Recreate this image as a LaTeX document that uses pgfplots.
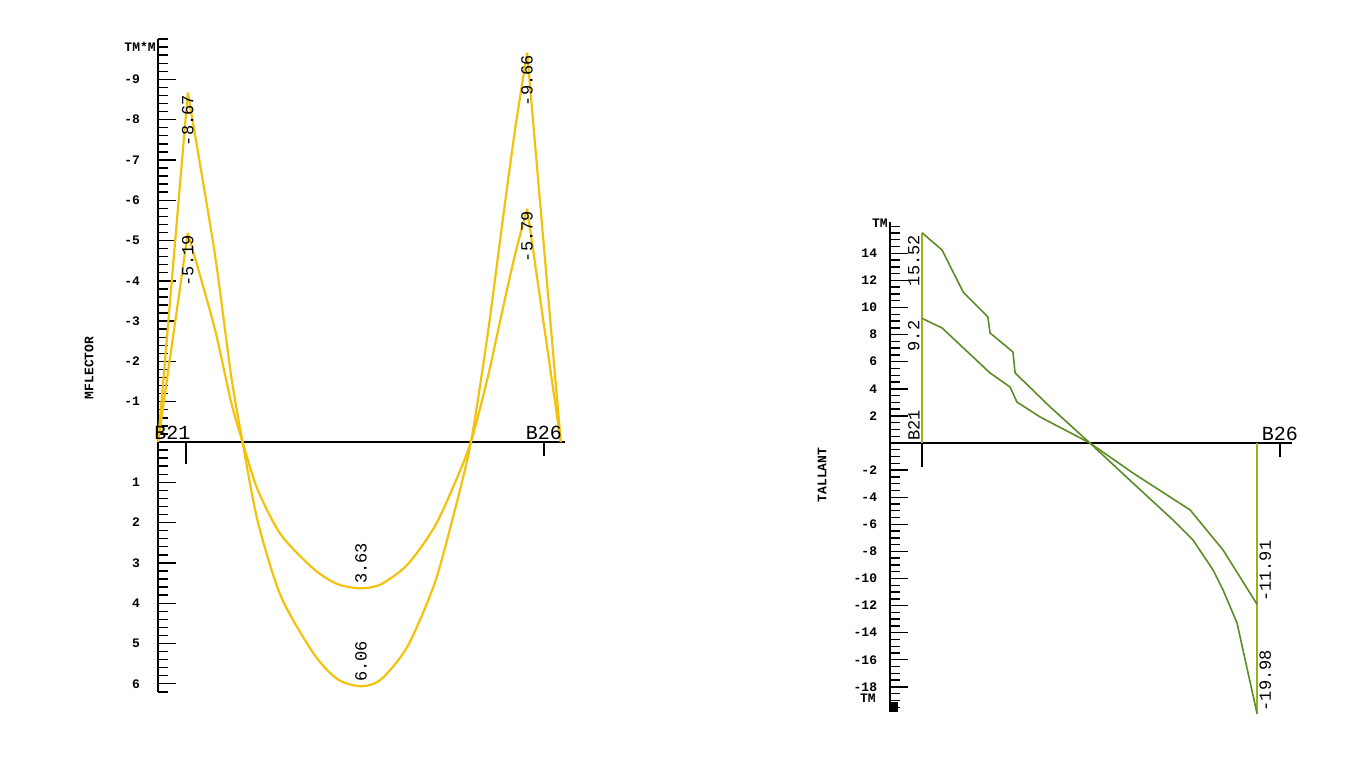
\documentclass[border=0pt]{standalone}
\usepackage{fontspec}
\setmainfont{Liberation Sans}
\setmonofont{Liberation Mono}
\usepackage{pgfplots}
\pgfplotsset{compat=1.18}

\definecolor{mom}{RGB}{242,194,12}
\definecolor{shear}{RGB}{92,140,36}
\definecolor{supp}{RGB}{150,178,28}

\newcommand{\tk}{\fontsize{6.5}{6.5}\selectfont\ttfamily\bfseries}
\newcommand{\vl}{\fontsize{8.5}{8.5}\selectfont\ttfamily}
\newcommand{\bl}{\fontsize{10}{10}\selectfont\ttfamily}

\pgfplotsset{diag/.style={
    scale only axis, anchor=origin, clip=false,
    axis y line=left, axis x line=middle,
    axis line style={-, line width=1pt, black},
    xtick=\empty, ytick align=inside,
    major tick length=9pt, minor tick length=5pt,
    tick style={black, line width=0.7pt},
    /pgf/number format/assume math mode=true,
}}

\begin{document}
\begin{tikzpicture}
\path[use as bounding box] (0,0) rectangle (684pt,378.5pt);

% bending moment
\begin{axis}[diag, at={(93pt,157.5pt)},
    width=203.5pt, height=326.4pt,
    xmin=-0.78, xmax=10.59, ymin=-10, ymax=6.2, y dir=reverse,
    ytick={-9,-8,-7,-6,-5,-4,-3,-2,-1,1,2,3,4,5,6},
    minor ytick={-10,-9.8,...,6.2},
    yticklabel style={font=\tk, xshift=-5.5pt},
]
\addplot[mom, line width=1.1pt, smooth, tension=0.45] coordinates {
    (0.05,-8.67) (0.79,-4.76) (1.26,-1.65) (1.58,0) (2.0,1.96) (2.65,3.83)
    (3.58,5.27) (4.24,5.89) (4.89,6.06) (5.45,5.89) (6.19,5.07) (6.94,3.52)
    (7.49,1.76) (7.96,0) (8.43,-2.69) (8.89,-5.79) (9.2,-7.8) (9.53,-9.66)};
\addplot[mom, line width=1.1pt, smooth, tension=0.45] coordinates {
    (0.05,-5.19) (0.79,-2.86) (1.26,-0.99) (1.58,0) (2.0,1.18) (2.65,2.30)
    (3.58,3.16) (4.24,3.53) (4.89,3.63) (5.45,3.53) (6.19,3.04) (6.94,2.11)
    (7.49,1.06) (7.96,0) (8.43,-1.61) (8.89,-3.47) (9.2,-4.68) (9.53,-5.79)};
\addplot[mom, line width=1.1pt] coordinates {(-0.78,0) (0.05,-8.67)};
\addplot[mom, line width=1.1pt] coordinates {(-0.78,0) (0.05,-5.19)};
\addplot[mom, line width=1.1pt] coordinates {(9.53,-9.66) (10.47,0)};
\addplot[mom, line width=1.1pt] coordinates {(9.53,-5.79) (10.47,0)};

\draw[line width=0.8pt] (axis cs:0,0) -- ([yshift=-11pt]axis cs:0,0);
\draw[line width=0.8pt] (axis cs:10,0) -- ([yshift=-7pt]axis cs:10,0);
\node[font=\bl, anchor=south west, inner sep=1pt, xshift=-3pt] at (axis cs:-0.78,0) {B21};
\node[font=\bl, anchor=south, inner sep=1pt] at (axis cs:10,0) {B26};
\node[font=\tk, anchor=east, inner sep=1pt] at (axis cs:-0.78,-9.8) {TM*M};
\node[font=\tk, rotate=90] at (axis cs:-2.71,-1.84) {MFLECTOR};

\node[font=\vl, rotate=90, anchor=east, inner sep=1pt] at (axis cs:0.05,-8.67) {-8.67};
\node[font=\vl, rotate=90, anchor=east, inner sep=1pt] at (axis cs:0.05,-5.19) {-5.19};
\node[font=\vl, rotate=90, anchor=east, inner sep=1pt] at (axis cs:9.53,-9.66) {-9.66};
\node[font=\vl, rotate=90, anchor=east, inner sep=1pt] at (axis cs:9.53,-5.79) {-5.79};
\node[font=\vl, rotate=90, anchor=west, inner sep=2pt] at (axis cs:4.89,3.63) {3.63};
\node[font=\vl, rotate=90, anchor=west, inner sep=2pt] at (axis cs:4.89,6.06) {6.06};
\end{axis}

% shear
\begin{axis}[diag, at={(461pt,157pt)},
    width=201pt, height=244.9pt,
    xmin=-0.89, xmax=10.34, ymin=-19.85, ymax=16.3,
    ytick={-18,-16,-14,-12,-10,-8,-6,-4,-2,2,4,6,8,10,12,14},
    minor ytick={-19.5,-19,...,16},
    yticklabel style={font=\tk, xshift=-3pt},
]
\addplot[supp, line width=0.9pt] coordinates {(0,0) (0,15.52)};
\addplot[supp, line width=0.9pt] coordinates {(9.36,0) (9.36,-19.98)};
\addplot[shear, line width=0.8pt] coordinates {
    (0,15.52) (0.56,14.24) (1.15,11.14) (1.84,9.30) (1.90,8.12) (2.54,6.72)
    (2.60,5.17) (3.58,2.66) (4.69,0) (5.89,-2.95) (7.01,-5.68) (7.57,-7.16)
    (8.13,-9.37) (8.41,-10.85) (8.80,-13.28) (9.36,-19.98)};
\addplot[shear, line width=0.8pt] coordinates {
    (0,9.2) (0.56,8.49) (1.90,5.17) (2.46,4.13) (2.65,3.03) (3.30,1.92)
    (4.69,0) (5.89,-2.21) (7.49,-4.94) (8.41,-7.90) (9.36,-11.91)};

\draw[line width=0.8pt] (axis cs:0,0) -- ([yshift=-12pt]axis cs:0,0);
\draw[line width=0.8pt] (axis cs:10,0) -- ([yshift=-7pt]axis cs:10,0);
\node[font=\bl, anchor=south, inner sep=1pt] at (axis cs:10,0) {B26};
\node[font=\vl, rotate=90, anchor=south west, inner sep=1pt] at (axis cs:0,0) {B21};
\node[font=\tk, anchor=east, inner sep=1pt] at (axis cs:-0.89,16.2) {TM};
\node[font=\tk, anchor=east, inner sep=1pt, xshift=-6pt] at (axis cs:-0.89,-18.8) {TM};
\fill (axis cs:-0.89,-19.85) rectangle ([xshift=4pt,yshift=5pt]axis cs:-0.89,-19.85);
\node[font=\tk, rotate=90] at (axis cs:-2.79,-2.36) {TALLANT};

\node[font=\vl, rotate=90, anchor=south east, inner sep=1pt] at (axis cs:0,15.52) {15.52};
\node[font=\vl, rotate=90, anchor=south east, inner sep=1pt] at (axis cs:0,9.2) {9.2};
\node[font=\vl, rotate=90, anchor=north west, inner sep=1pt] at (axis cs:9.36,-11.91) {-11.91};
\node[font=\vl, rotate=90, anchor=north west, inner sep=1pt] at (axis cs:9.36,-19.98) {-19.98};
\end{axis}
\end{tikzpicture}
\end{document}
